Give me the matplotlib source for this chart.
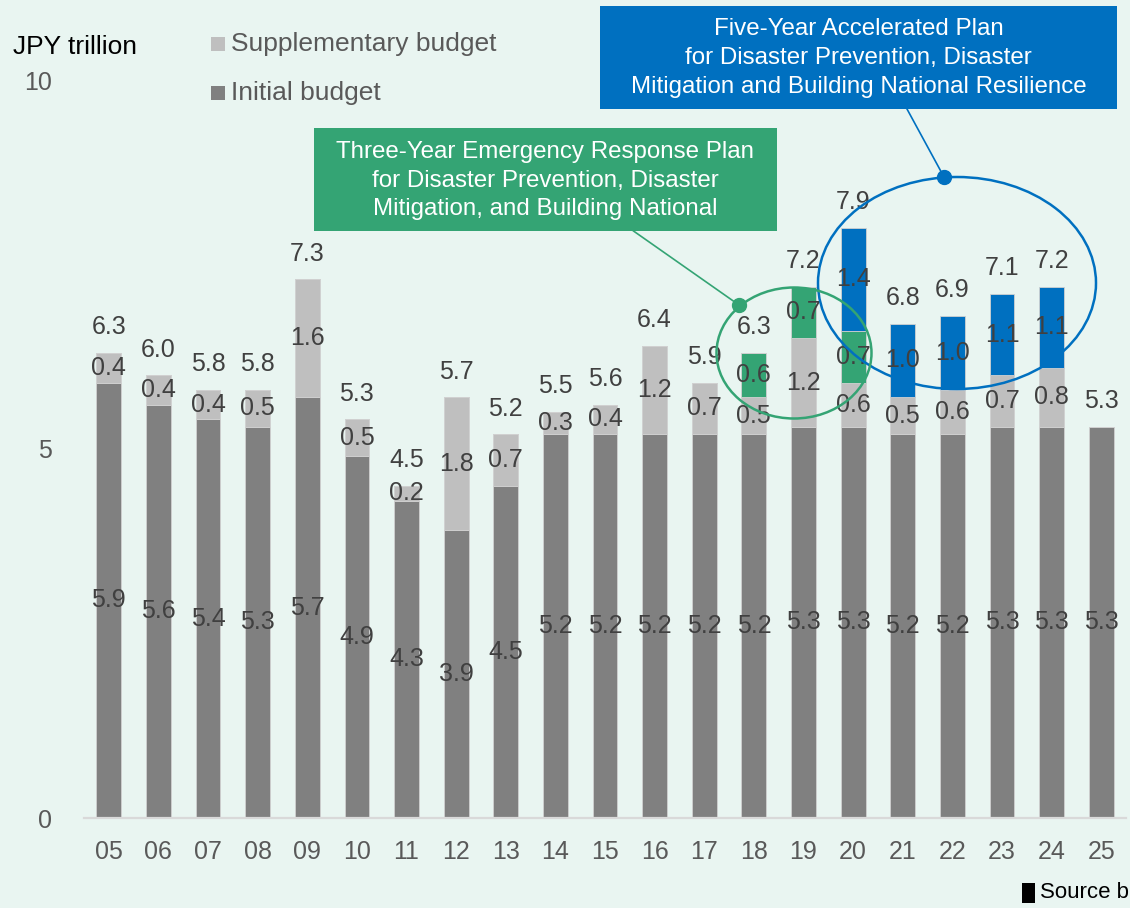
import matplotlib
matplotlib.use('Agg')
import matplotlib.pyplot as plt
from matplotlib.patches import Ellipse, Rectangle
from matplotlib.lines import Line2D
import numpy as np

# ---------------- data ----------------
years = ['05', '06', '07', '08', '09', '10', '11', '12', '13', '14', '15',
         '16', '17', '18', '19', '20', '21', '22', '23', '24', '25']
initial = [5.9, 5.6, 5.4, 5.3, 5.7, 4.9, 4.3, 3.9, 4.5, 5.2, 5.2,
           5.2, 5.2, 5.2, 5.3, 5.3, 5.2, 5.2, 5.3, 5.3, 5.3]
supplementary = [0.4, 0.4, 0.4, 0.5, 1.6, 0.5, 0.2, 1.8, 0.7, 0.3, 0.4,
                 1.2, 0.7, 0.5, 1.2, 0.6, 0.5, 0.6, 0.7, 0.8, 0.0]
three_year_plan = [0, 0, 0, 0, 0, 0, 0, 0, 0, 0, 0,
                   0, 0, 0.6, 0.7, 0.7, 0, 0, 0, 0, 0]
five_year_plan = [0, 0, 0, 0, 0, 0, 0, 0, 0, 0, 0,
                  0, 0, 0, 0, 1.4, 1.0, 1.0, 1.1, 1.1, 0]
totals = [6.3, 6.0, 5.8, 5.8, 7.3, 5.3, 4.5, 5.7, 5.2, 5.5, 5.6,
          6.4, 5.9, 6.3, 7.2, 7.9, 6.8, 6.9, 7.1, 7.2, 5.3]
yticks = [0, 5, 10]

legend_labels = ['Supplementary budget', 'Initial budget']
three_year_text = ['Three-Year Emergency Response Plan',
                   'for Disaster Prevention, Disaster',
                   'Mitigation, and Building National']
five_year_text = ['Five-Year Accelerated Plan',
                  'for Disaster Prevention, Disaster',
                  'Mitigation and Building National Resilience']

# ---------------- style ----------------
BG = '#E9F5F1'
C_INIT = '#808080'
C_SUPP = '#BFBFBF'
C_GREEN = '#34A474'
C_BLUE = '#0070C0'
C_LBL = '#404040'
C_TICK = '#595959'
FONT = ['Liberation Sans', 'DejaVu Sans']
plt.rcParams['font.family'] = FONT

W, H = 1130, 908
fig = plt.figure(figsize=(W / 100, H / 100), dpi=100, facecolor=BG)
ax = fig.add_axes([84 / W, 1 - 818 / H, 1042 / W, 738 / H])
ax.set_facecolor(BG)

x = np.arange(len(years))
init = np.array(initial)
supp = np.array(supplementary)
g3 = np.array(three_year_plan)
b5 = np.array(five_year_plan)

bw = 0.5
ec = '#D0D0D0'
ax.bar(x, init, bw, color=C_INIT, edgecolor=ec, linewidth=0.6, zorder=2)
ax.bar(x, supp, bw, bottom=init, color=C_SUPP, edgecolor=ec, linewidth=0.6, zorder=2)
ax.bar(x, g3, bw, bottom=init + supp, color=C_GREEN, edgecolor=ec, linewidth=0.6, zorder=2)
ax.bar(x, b5, bw, bottom=init + supp + g3, color=C_BLUE, edgecolor=ec, linewidth=0.6, zorder=2)

fs = 18
# segment labels
for i in range(len(years)):
    base = 0.0
    for seg in (init, supp, g3, b5):
        v = seg[i]
        if v > 0:
            ax.text(x[i], base + v / 2, f'{v:.1f}', ha='center', va='center',
                    fontsize=fs, color=C_LBL, zorder=4)
        base += v
    ax.annotate(f'{totals[i]:.1f}', (x[i], base), xytext=(0, 18.5),
                textcoords='offset points', ha='center', va='center',
                fontsize=fs, color=C_LBL, zorder=4)

ax.set_xlim(-0.5, len(years) - 0.5)
ax.set_ylim(0, 10)
ax.set_xticks(x)
ax.set_xticklabels(years)
ax.set_yticks(yticks)
ax.set_yticklabels([str(t) for t in yticks])
ax.tick_params(axis='both', length=0, labelsize=fs, colors=C_TICK)
ax.tick_params(axis='x', pad=16)
ax.tick_params(axis='y', pad=23)
for s in ['top', 'right', 'left']:
    ax.spines[s].set_visible(False)
ax.spines['bottom'].set_color('#D9D9D9')
ax.spines['bottom'].set_linewidth(1.6)


def fp(px, py):
    return (px / W, 1 - py / H)


tf = fig.transFigure

# unit label
fig.text(*fp(13, 47), 'JPY trillion', fontsize=19, color='#000000', ha='left', va='center')

# legend
for (sy, col, lab) in [(37, C_SUPP, legend_labels[0]), (86, C_INIT, legend_labels[1])]:
    fig.patches.append(Rectangle(fp(211, sy + 14), 14 / W, 14 / H, transform=tf,
                                 facecolor=col, edgecolor='none'))
    fig.text(*fp(231, sy + 7), lab, fontsize=19, color=C_TICK, ha='left', va='center')

# five-year box
fig.patches.append(Rectangle(fp(600, 109), 517 / W, 103 / H, transform=tf,
                             facecolor=C_BLUE, edgecolor='none', zorder=5))
for line, yy in zip(five_year_text, [29, 58, 87]):
    fig.text(*fp(858.5, yy), line, fontsize=17.4, color='white', ha='center',
             va='center', zorder=6)

# three-year box
fig.patches.append(Rectangle(fp(314, 231), 463 / W, 103 / H, transform=tf,
                             facecolor=C_GREEN, edgecolor='none', zorder=5))
for line, yy in zip(three_year_text, [152, 181, 209]):
    fig.text(*fp(545.5, yy), line, fontsize=17.4, color='white', ha='center',
             va='center', zorder=6)

# ellipses and connectors
fig.patches.append(Ellipse(fp(957, 283), 278 / W, 212 / H, transform=tf,
                           facecolor='none', edgecolor=C_BLUE, linewidth=1.8, zorder=5))
fig.patches.append(Ellipse(fp(794, 353), 155 / W, 131 / H, transform=tf,
                           facecolor='none', edgecolor=C_GREEN, linewidth=1.8, zorder=5))
for (p0, p1, col) in [((944, 177), (907, 109), C_BLUE), ((739, 305), (633.5, 231), C_GREEN)]:
    a, b = fp(*p0), fp(*p1)
    fig.lines.append(Line2D([a[0], b[0]], [a[1], b[1]], transform=tf, color=col,
                            linewidth=1.2, zorder=5))
    fig.lines.append(Line2D([a[0]], [a[1]], transform=tf, marker='o', markersize=10,
                            color=col, zorder=6))

# source note
fig.patches.append(Rectangle(fp(1022, 903), 13 / W, 20 / H, transform=tf,
                             facecolor='black', edgecolor='none'))
fig.text(*fp(1040, 892), 'Source b', fontsize=16, color='black', ha='left', va='center')

fig.savefig('out.png', dpi=100, facecolor=BG)
